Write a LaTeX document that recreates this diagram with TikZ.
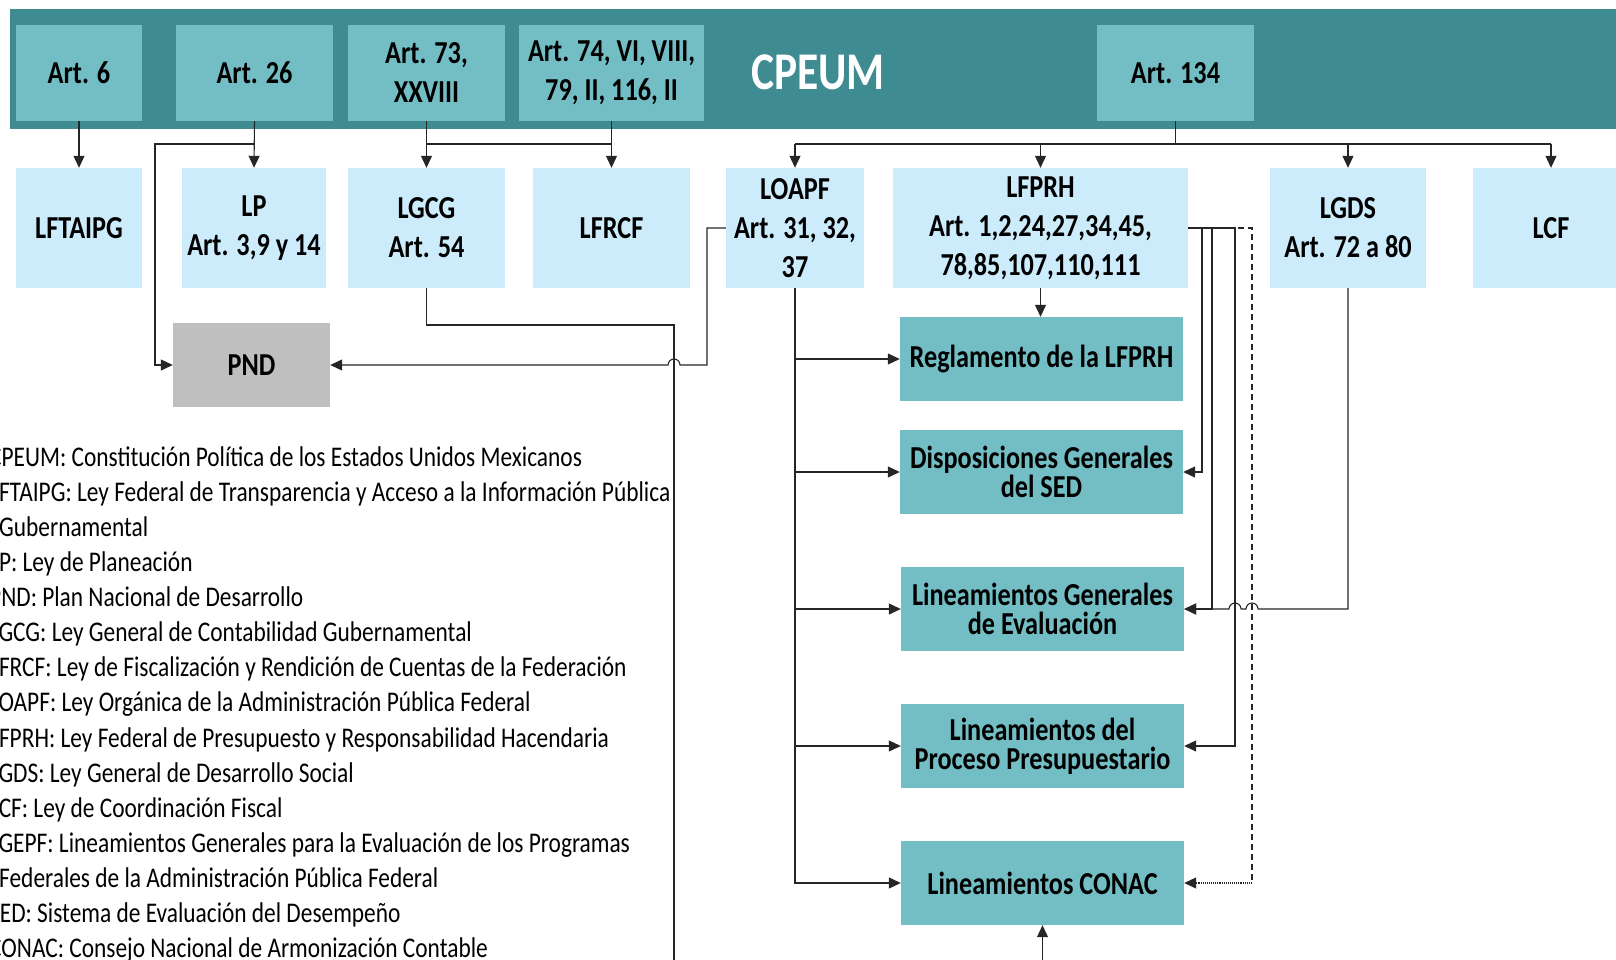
\documentclass[tikz,border=0pt]{standalone}
\usepackage{fontspec}
\setmainfont{Carlito}[FakeStretch=0.82]
\usetikzlibrary{arrows.meta}

\definecolor{cpeumteal}{RGB}{62,139,146}
\definecolor{artteal}{RGB}{115,190,197}
\definecolor{leyblue}{RGB}{204,236,252}
\definecolor{pndgray}{RGB}{191,191,191}

\tikzset{
  caja/.style   = {inner sep=0pt, align=center, font=\bfseries\fontsize{32}{39}\selectfont},
  art/.style    = {caja, fill=artteal, minimum height=96pt},
  ley/.style    = {caja, fill=leyblue, minimum height=120pt},
  norma/.style  = {caja, fill=artteal, minimum width=283pt, minimum height=84pt,
                   font=\bfseries\fontsize{32}{29}\selectfont},
  linea/.style  = {draw=black!85, line width=1.1pt},
  flecha/.style = {linea, -{Triangle[length=12pt,width=11pt]}},
  leyenda/.style= {anchor=base west, inner sep=0pt, font=\fontsize{28.5}{35}\selectfont}
}

\begin{document}
\begin{tikzpicture}[x=1pt,y=-1pt]
\useasboundingbox (0,0) rectangle (1616,960);
\clip (0,0) rectangle (1616,960);
%\draw[help lines,step=100] (0,0) grid (1616,960);

% CPEUM
\fill[cpeumteal] (10,9) rectangle (1640,129);
\node[font=\bfseries\fontsize{53}{60}\selectfont, text=white] (cpeum) at (818,72) {CPEUM};

\node[art, minimum width=126pt] (art6)   at (79,73)    {Art. 6};
\node[art, minimum width=157pt] (art26)  at (254.5,73) {Art. 26};
\node[art, minimum width=157pt] (art73)  at (426.5,73) {Art. 73,\\XXVIII};
\node[art, minimum width=185pt] (art74)  at (611.5,73) {Art. 74, VI, VIII,\\79, II, 116, II};
\node[art, minimum width=157pt] (art134) at (1175.5,73) {Art. 134};

% leyes
\node[ley, minimum width=126pt] (lftaipg) at (79,228)     {LFTAIPG};
\node[ley, minimum width=144pt] (lp)      at (254,228)    {LP\\Art. 3,9 y 14};
\node[ley, minimum width=157pt] (lgcg)    at (426.5,228)  {LGCG\\Art. 54};
\node[ley, minimum width=157pt] (lfrcf)   at (611.5,228)  {LFRCF};
\node[ley, minimum width=138pt] (loapf)   at (795,228)    {LOAPF\\Art. 31, 32,\\37};
\node[ley, minimum width=295pt] (lfprh)   at (1040.5,228) {LFPRH\\Art. 1,2,24,27,34,45,\\78,85,107,110,111};
\node[ley, minimum width=156pt] (lgds)    at (1348,228)   {LGDS\\Art. 72 a 80};
\node[ley, minimum width=156pt] (lcf)     at (1551,228)   {LCF};

\node[caja, fill=pndgray, minimum width=157pt, minimum height=84pt] (pnd) at (251.5,365) {PND};

% normas
\node[norma] (regl)  at (1041.5,359) {Reglamento de la LFPRH};
\node[norma] (disp)  at (1041.5,472) {Disposiciones Generales\\del SED};
\node[norma] (lge)   at (1042.5,609) {Lineamientos Generales\\de Evaluación};
\node[norma] (lpp)   at (1042.5,746) {Lineamientos del\\Proceso Presupuestario};
\node[norma] (conac) at (1042.5,883) {Lineamientos CONAC};

\coordinate (rama) at (0,144);
\coordinate (esq) at (1252,883);

\draw[flecha] (art6.south) -- (lftaipg.north);
\draw[flecha] (art26.south) -- (lp.north);
\draw[flecha] (art26.south) |- (155,144) |- (pnd.west);
\draw[flecha] (art73.south) -- (lgcg.north);
\draw[flecha] (art74.south) -- (lfrcf.north);
\draw[linea] (art73.south |- rama) -- (art74.south |- rama);

\draw[linea] (art134.south) -- (art134.south |- rama);
\draw[linea] (loapf.north |- rama) -- (lcf.north |- rama);
\foreach \n in {loapf,lfprh,lgds,lcf}
  \draw[flecha] (\n.north |- rama) -- (\n.north);

\draw[flecha] (lgcg.south) |- (674,325) -- (674,1000) -| (conac.south);
\draw[flecha] (loapf.west) -| (707,365) -- (680,365)
  arc[start angle=0, end angle=180, radius=6pt] -- (pnd.east);

\draw[flecha] (loapf.south) |- (conac.west);
\foreach \n in {regl,disp,lge,lpp}
  \draw[flecha] (loapf.south |- \n.west) -- (\n.west);

\draw[flecha] (lfprh.south) -- (lfprh.south |- regl.north);
\draw[flecha] (lfprh.east) -- (1202,228) |- (disp.east);
\draw[flecha] (lfprh.east) -- (1212,228) |- (lge.east);
\draw[flecha] (lfprh.east) -- (1235,228) |- (lpp.east);
\draw[linea, dash pattern=on 6pt off 4pt] (lfprh.east) -- (1252,228) -- (esq);
\draw[flecha, densely dotted] (esq) -- (conac.east);

\draw[flecha] (lgds.south) |- (1258,609)
  arc[start angle=0, end angle=180, radius=6pt] -- (1241,609)
  arc[start angle=0, end angle=180, radius=6pt] -- (lge.east);

% siglas
\foreach \dx/\txt [count=\i from 0] in {
  -11/{CPEUM: Constitución Política de los Estados Unidos Mexicanos},
  -11/{LFTAIPG: Ley Federal de Transparencia y Acceso a la Información Pública},
  -1/{Gubernamental},
  -11/{LP: Ley de Planeación},
  -11/{PND: Plan Nacional de Desarrollo},
  -11/{LGCG: Ley General de Contabilidad Gubernamental},
  -11/{LFRCF: Ley de Fiscalización y Rendición de Cuentas de la Federación},
  -11/{LOAPF: Ley Orgánica de la Administración Pública Federal},
  -11/{LFPRH: Ley Federal de Presupuesto y Responsabilidad Hacendaria},
  -11/{LGDS: Ley General de Desarrollo Social},
  -11/{LCF: Ley de Coordinación Fiscal},
  -11/{LGEPF: Lineamientos Generales para la Evaluación de los Programas},
  -1/{Federales de la Administración Pública Federal},
  -11/{SED: Sistema de Evaluación del Desempeño},
  -11/{CONAC: Consejo Nacional de Armonización Contable}}
  \node[leyenda] (sigla\i) at ({\dx},{466+35.14*\i}) {\txt};
\end{tikzpicture}
\end{document}
